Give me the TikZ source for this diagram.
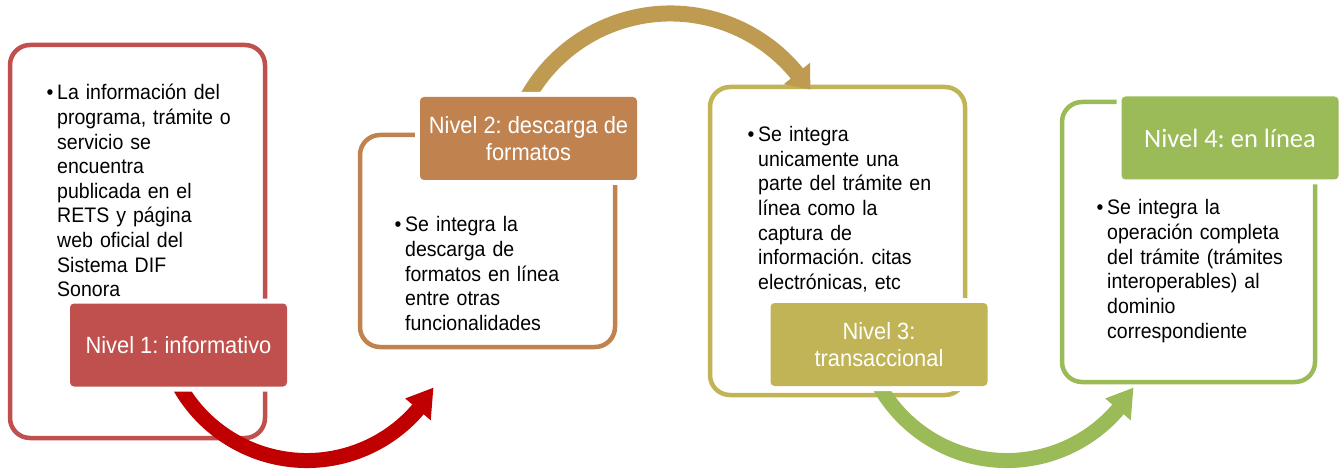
\documentclass[tikz,border=0pt]{standalone}
\usepackage{fontspec}
\newfontfamily\arialn[FakeStretch=0.93]{Liberation Sans}
\newfontfamily\calib{Carlito}
\definecolor{cRed}{HTML}{C0504D}
\definecolor{cRedArr}{HTML}{C00000}
\definecolor{cBrown}{HTML}{C0834F}
\definecolor{cGold}{HTML}{BF9B52}
\definecolor{cOlive}{HTML}{C0B456}
\definecolor{cGreen}{HTML}{9BBB59}
\begin{document}
\frenchspacing
\begin{tikzpicture}[x=1pt,y=1pt,
  box/.style={draw=#1, line width=4.5pt, rounded corners=20pt, minimum width=255pt, inner sep=0pt},
  lab/.style={fill=#1, rounded corners=4pt, preaction={draw=white, line width=10pt},
    text=white, align=center, minimum width=217pt, minimum height=83pt, inner sep=0pt,
    font=\arialn\frenchspacing\fontsize{23.5}{27}\selectfont},
  body/.style={anchor=base west, text width=230pt, align=left, inner sep=0pt,
    font=\arialn\frenchspacing\fontsize{21}{24.6}\selectfont},
  arr/.style={line width=#1, line cap=butt}
]
\useasboundingbox (0,0) rectangle (1343,469);
\fill[white] (0,0) rectangle (1343,469);
\newcommand{\bul}{\llap{\makebox[10.5pt][l]{•}}}
% outline boxes
\node[box=cRed, minimum height=393pt] (b1) at (137.5,227.5) {};
\node[box=cBrown, minimum height=212pt] (b2) at (487.5,228) {};
\node[box=cOlive, minimum height=308pt] (b3) at (837.5,228) {};
\node[box=cGreen, minimum width=253pt, minimum height=280pt] (b4) at (1188.5,227) {};
% arrows
\coordinate (c1) at (306.9,154.8);
\coordinate (c2) at (670.4,292);
\coordinate (c3) at (1006.9,154.8);
\draw[arr=15pt, cRedArr] ([shift={(200:146.3)}]c1) arc[start angle=200, end angle=320, radius=146.3];
\fill[cRedArr] ([shift={(319.4:129.5)}]c1) -- ([shift={(329.8:146.3)}]c1) -- ([shift={(319.4:163.1)}]c1) -- cycle;
\draw[arr=16pt, cGold] ([shift={(157:163.5)}]c2) arc[start angle=157, end angle=38.8, radius=163.5];
\fill[cGold] ([shift={(39.3:146.5)}]c2) -- ([shift={(32:165)}]c2) -- ([shift={(39.3:180.5)}]c2) -- cycle;
\draw[arr=15pt, cGreen] ([shift={(200:146.3)}]c3) arc[start angle=200, end angle=320, radius=146.3];
\fill[cGreen] ([shift={(319.4:129.5)}]c3) -- ([shift={(329.8:146.3)}]c3) -- ([shift={(319.4:163.1)}]c3) -- cycle;
% labels
\node[lab=cRed] (l1) at (178.5,124) {Nivel 1: informativo};
\node[lab=cBrown] (l2) at (528.5,330.5) {Nivel 2: descarga de\\formatos};
\node[lab=cOlive] (l3) at (879,124.5) {Nivel 3:\\transaccional};
\node[lab=cGreen, font=\calib\frenchspacing\fontsize{26.5}{30}\selectfont] (l4) at (1230,331) {Nivel 4: en línea};
% body texts
\node[body] (t1) at (57,369) {\bul La información del\\programa, trámite o\\servicio se\\encuentra\\publicada en el\\RETS y página\\web oficial del\\Sistema DIF\\Sonora};
\node[body] (t2) at (405,237) {\bul Se integra la\\descarga de\\formatos en línea\\entre otras\\funcionalidades};
\node[body] (t3) at (758,327.3) {\bul Se integra\\unicamente una\\parte del trámite en\\línea como la\\captura de\\información. citas\\electrónicas, etc};
\node[body] (t4) at (1107,254) {\bul Se integra la\\operación completa\\del trámite (trámites\\interoperables) al\\dominio\\correspondiente};
\end{tikzpicture}
\end{document}
